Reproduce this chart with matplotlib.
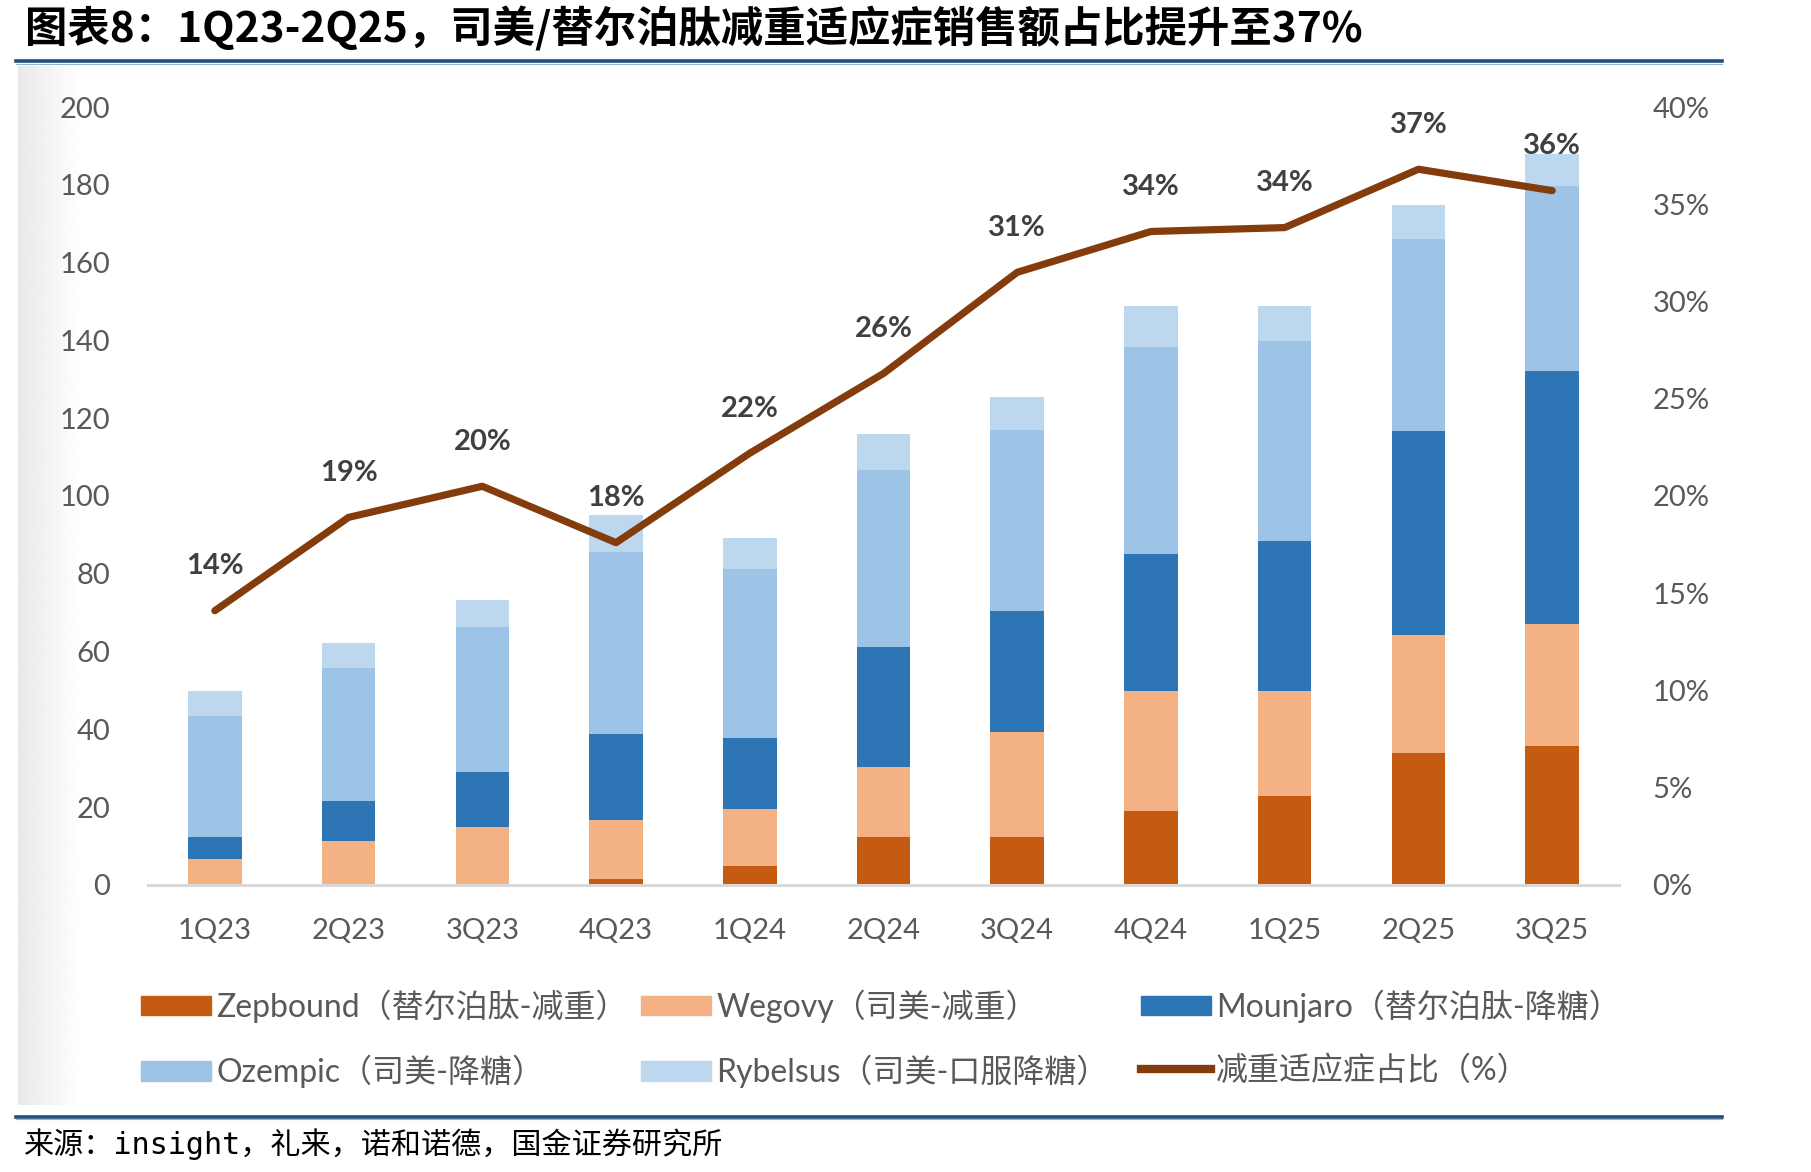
import matplotlib
matplotlib.use("Agg")
import matplotlib.pyplot as plt
import numpy as np
from matplotlib.patches import Patch
from matplotlib.lines import Line2D

plt.rcParams['font.family'] = ['Lato', 'Noto Sans CJK SC', 'DejaVu Sans']

quarters = ["1Q23", "2Q23", "3Q23", "4Q23", "1Q24", "2Q24", "3Q24", "4Q24", "1Q25", "2Q25", "3Q25"]
zepbound = [0, 0, 0, 1.5, 4.9, 12.4, 12.4, 19.1, 22.9, 33.8, 35.6]
wegovy = [6.7, 11.4, 14.9, 15.3, 14.6, 18.0, 27.0, 30.8, 27.0, 30.4, 31.5]
mounjaro = [5.7, 10.1, 14.2, 21.9, 18.4, 30.9, 31.0, 35.3, 38.6, 52.4, 65.0]
ozempic = [31.0, 34.2, 37.1, 46.9, 43.3, 45.4, 46.6, 53.2, 51.3, 49.4, 47.7]
rybelsus = [6.5, 6.6, 7.0, 9.5, 8.0, 9.3, 8.4, 10.4, 9.0, 8.9, 8.1]
share = [14.1, 18.9, 20.5, 17.6, 22.2, 26.3, 31.5, 33.6, 33.8, 36.8, 35.7]
share_labels = ["14%", "19%", "20%", "18%", "22%", "26%", "31%", "34%", "34%", "37%", "36%"]

series = [
    ("Zepbound（替尔泊肽-减重）", zepbound, "#C55A11"),
    ("Wegovy（司美-减重）", wegovy, "#F4B183"),
    ("Mounjaro（替尔泊肽-降糖）", mounjaro, "#2E75B6"),
    ("Ozempic（司美-降糖）", ozempic, "#9DC3E6"),
    ("Rybelsus（司美-口服降糖）", rybelsus, "#BDD7EE"),
]
line_name = "减重适应症占比（%）"
line_color = "#843C0C"
tick_color = "#595959"

fig = plt.figure(figsize=(18.11, 11.72), dpi=100)

# light grey fade on the left edge of the chart panel
bg = fig.add_axes([0.010, 0.057, 0.035, 0.887])
grad = np.linspace(0.91, 1.0, 64).reshape(1, -1)
bg.imshow(grad, aspect="auto", cmap="gray", vmin=0, vmax=1, extent=[0, 1, 0, 1])
bg.axis("off")

ax = fig.add_axes([0.0817, 0.2449, 0.8123, 0.6638])
x = np.arange(len(quarters))
bottom = np.zeros(len(quarters))
for name, vals, col in series:
    ax.bar(x, vals, width=0.40, bottom=bottom, color=col, zorder=2)
    bottom += np.array(vals)

ax.set_xlim(-0.5, len(quarters) - 0.5)
ax.set_ylim(0, 200)
ax.set_yticks(np.arange(0, 201, 20))
ax.set_xticks(x)
ax.set_xticklabels(quarters)
for s in ["top", "right", "left"]:
    ax.spines[s].set_visible(False)
ax.spines["bottom"].set_color("#D9D9D9")
ax.spines["bottom"].set_linewidth(2.2)
ax.tick_params(axis="y", length=0, pad=27, labelsize=21, labelcolor=tick_color)
ax.tick_params(axis="x", length=0, pad=24, labelsize=21, labelcolor=tick_color)

ax2 = ax.twinx()
ax2.set_ylim(0, 40)
ax2.set_yticks(np.arange(0, 41, 5))
ax2.set_yticklabels([f"{v}%" for v in range(0, 41, 5)])
for s in ax2.spines.values():
    s.set_visible(False)
ax2.tick_params(axis="y", length=0, pad=24, labelsize=21, labelcolor=tick_color)
ax2.plot(x, share, color=line_color, lw=5.2, solid_capstyle="round", zorder=3)
for xi, yi, lab in zip(x, share, share_labels):
    ax2.annotate(lab, (xi, yi), xytext=(0, 32), textcoords="offset points",
                 ha="center", va="center", fontsize=21, fontweight="bold", color="#404040")

# legend: three columns, each its own legend so the columns sit on an even grid
handles = [Patch(color=c) for _, _, c in series]
labels = [n for n, _, _ in series]
handles.append(Line2D([0], [0], color=line_color, lw=6))
labels.append(line_name)
col_x = [0.0708, 0.3469, 0.6230]
for ci, (a, b) in enumerate([(0, 3), (1, 4), (2, 5)]):
    fig.legend([handles[a], handles[b]], [labels[a], labels[b]],
               loc="upper left", bbox_to_anchor=(col_x[ci], 0.1664), frameon=False,
               borderaxespad=0, fontsize=23, handlelength=2.2, handleheight=0.55,
               handletextpad=0.15, labelspacing=1.0, labelcolor=tick_color)

# title and rules
fig.text(0.014, 0.975, "图表8：1Q23-2Q25，司美/替尔泊肽减重适应症销售额占比提升至37%",
         fontsize=30.5, fontweight="bold", ha="left", va="center",
         family=["Noto Sans CJK SC", "DejaVu Sans"])
for yy in [0.948, 0.047]:
    fig.add_artist(Line2D([0.009, 0.951], [yy, yy], color="#1F4E79", lw=2.6))
    fig.add_artist(Line2D([0.009, 0.951], [yy - 0.0022, yy - 0.0022], color="#8FB4D0", lw=0.8))
fig.text(0.013, 0.024, "来源：insight，礼来，诺和诺德，国金证券研究所", fontsize=21.7,
         ha="left", va="center", family=["DejaVu Sans Mono", "Noto Sans CJK SC"])

fig.savefig("out.png", dpi=100)
